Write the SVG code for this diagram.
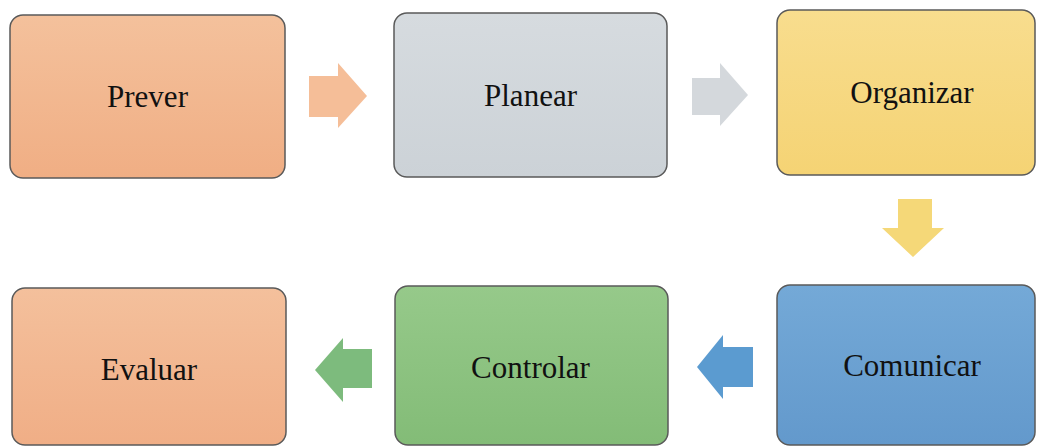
<svg xmlns="http://www.w3.org/2000/svg" width="1038" height="447" viewBox="0 0 1038 447">
<defs>
<linearGradient id="gO" x1="0" y1="0" x2="0" y2="1"><stop offset="0" stop-color="#F4C19C"/><stop offset="1" stop-color="#F0AE84"/></linearGradient>
<linearGradient id="gG" x1="0" y1="0" x2="0" y2="1"><stop offset="0" stop-color="#D6DBDF"/><stop offset="1" stop-color="#CCD2D7"/></linearGradient>
<linearGradient id="gY" x1="0" y1="0" x2="0" y2="1"><stop offset="0" stop-color="#F8DD8E"/><stop offset="1" stop-color="#F5D374"/></linearGradient>
<linearGradient id="gB" x1="0" y1="0" x2="0" y2="1"><stop offset="0" stop-color="#74A9D7"/><stop offset="1" stop-color="#6399CC"/></linearGradient>
<linearGradient id="gGr" x1="0" y1="0" x2="0" y2="1"><stop offset="0" stop-color="#96C98A"/><stop offset="1" stop-color="#83BC77"/></linearGradient>
<linearGradient id="gE" x1="0" y1="0" x2="0" y2="1"><stop offset="0" stop-color="#F4C09C"/><stop offset="1" stop-color="#F0AE86"/></linearGradient>
</defs>
<style>
.box{stroke:#5a5a5a;stroke-width:1.5}
.lbl{font-family:"Liberation Serif","Times New Roman",serif;font-size:31px;fill:#111;text-anchor:middle}
</style>
<rect width="1038" height="447" fill="#fff"/>
<g id="connectors">
<path d="M309,76 H338 V63 L367,96 L338,128 V117 H309 Z" fill="#F5BE98"/>
<path d="M692,78 H720 V63 L748,95 L720,126 V115 H692 Z" fill="#D4D8DC"/>
<path d="M898,199 H932 V228 H944 L913,257 L882,228 H898 Z" fill="#F5D878"/>
<path d="M753,347 H723 V335 L697,367 L723,399 V387 H753 Z" fill="#5B9BD0"/>
<path d="M372,349 H343 V338 L315,370 L343,402 V388 H372 Z" fill="#7DBB7D"/>
</g>
<g id="prever"><rect class="box" x="10" y="15" width="275" height="163" rx="13" fill="url(#gO)"/><text class="lbl" x="147.5" y="107">Prever</text></g>
<g id="planear"><rect class="box" x="394" y="13" width="273" height="164" rx="13" fill="url(#gG)"/><text class="lbl" x="530.5" y="106">Planear</text></g>
<g id="organizar"><rect class="box" x="777" y="10" width="258" height="165" rx="13" fill="url(#gY)"/><text class="lbl" x="912" y="103">Organizar</text></g>
<g id="comunicar"><rect class="box" x="777" y="285" width="258" height="160" rx="13" fill="url(#gB)"/><text class="lbl" x="912" y="376">Comunicar</text></g>
<g id="controlar"><rect class="box" x="395" y="286" width="273" height="159" rx="13" fill="url(#gGr)"/><text class="lbl" x="530.5" y="378">Controlar</text></g>
<g id="evaluar"><rect class="box" x="12" y="288" width="274" height="157" rx="13" fill="url(#gE)"/><text class="lbl" x="149" y="380">Evaluar</text></g>
</svg>
